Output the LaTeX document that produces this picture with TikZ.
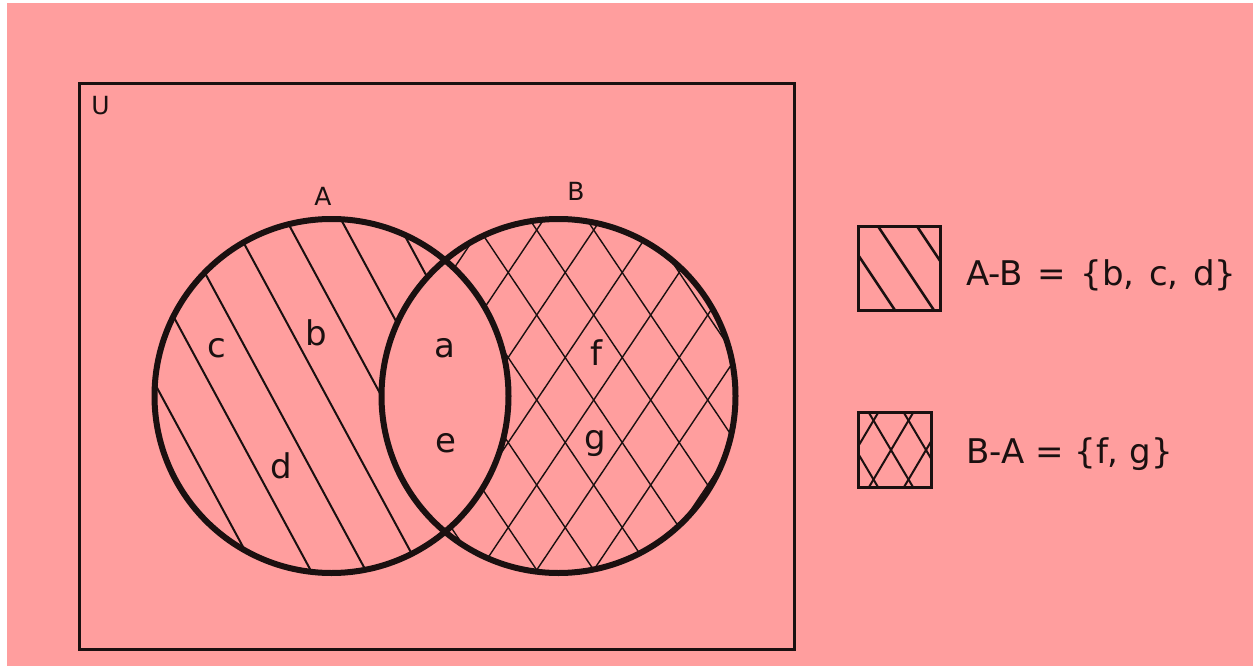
\documentclass[tikz,border=0pt]{standalone}
\usepackage{fontspec}
\setmainfont{DejaVu Sans}
\definecolor{bgpink}{RGB}{255,158,158}
\definecolor{inkc}{HTML}{1A1010}

\tikzset{
  setline/.style={line width=6pt, inkc},
  hatchline/.style={line width=2pt, inkc},
  crossline/.style={line width=1.4pt, inkc},
  setname/.style={font=\fontsize{25}{30}\selectfont, inner sep=0pt, anchor=base, text=inkc},
  elem/.style={font=\fontsize{34}{40}\selectfont, inner sep=0pt, anchor=base, text=inkc},
  legtext/.style={font=\fontsize{34}{40}\selectfont, inner sep=0pt, anchor=base west, text=inkc},
}

\begin{document}
\begin{tikzpicture}[x=1pt, y=-1pt]
  \useasboundingbox (0,0) rectangle (1253,666);
  \fill[white] (0,0) rectangle (1253,666);
  \fill[bgpink] (7,3) rectangle (1253,666);
  \coordinate (cA) at (331.5,396);
  \coordinate (cB) at (558.5,396);
  % universe
  \draw[line width=3pt, inkc] (79.5,83.5) rectangle (794.5,649.5);
  \node[setname] (lblU) at (100.5,115) {U};
  % A - B
  \begin{scope}
    \clip (cA) circle[radius=177pt];
    \foreach \k [evaluate=\k as \x using 162+55*\k] in {0,...,6}
      \draw[hatchline] ({\x-110},193.5) -- ({\x+110},600.5);
  \end{scope}
  % B - A
  \begin{scope}
    \clip (cB) circle[radius=177pt];
    \foreach \k [evaluate=\k as \x using 536.7+57*\k] in {-5,...,6}{
      \draw[crossline] ({\x-142.5},187.5) -- ({\x+142.5},612.5);
      \draw[crossline] ({\x-142.5},612.5) -- ({\x+142.5},187.5);
    }
  \end{scope}
  % lens stays plain
  \begin{scope}
    \clip (cA) circle[radius=177pt];
    \fill[bgpink] (cB) circle[radius=177pt];
  \end{scope}
  \draw[setline] (cA) circle[radius=177pt];
  \draw[setline] (cB) circle[radius=177pt];
  \node[setname] (lblA) at (323,205) {A};
  \node[setname] (lblB) at (576,200) {B};
  % elements
  \node[elem] (ec) at (216.5,357) {c};
  \node[elem] (eb) at (316,345) {b};
  \node[elem] (ed) at (281,478) {d};
  \node[elem] (ea) at (445,357) {a};
  \node[elem] (ee) at (446,452) {e};
  \node[elem] (ef) at (596,365) {f};
  \node[elem] (eg) at (595,449) {g};
  % legend
  \begin{scope}
    \clip (858.3,226.7) rectangle (940,310.7);
    \foreach \x in {867.3,906.3,945.3}
      \draw[line width=2.6pt, inkc] ({\x-40},208.7) -- ({\x+40},328.7);
  \end{scope}
  \draw[line width=3pt, inkc] (858.3,226.7) rectangle (940,310.7);
  \begin{scope}
    \clip (858,412.7) rectangle (931.7,487.7);
    \foreach \x in {856,891,926}{
      \draw[crossline, line width=2pt] ({\x-35},391) -- ({\x+35},509);
      \draw[crossline, line width=2pt] ({\x-35},509) -- ({\x+35},391);
    }
  \end{scope}
  \draw[line width=3pt, inkc] (858,412.7) rectangle (931.7,487.7);
  \node[legtext] (legAB) at (966,285) {\spaceskip=14.5pt A-B = \{b, c, d\}};
  \node[legtext] (legBA) at (966,463.3) {B-A = \{f, g\}};
\end{tikzpicture}
\end{document}
